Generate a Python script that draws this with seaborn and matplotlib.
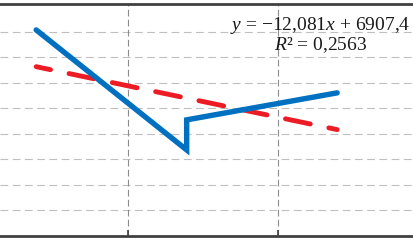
import matplotlib
matplotlib.use("Agg")
import matplotlib.pyplot as plt
import seaborn as sns
import numpy as np
import pandas as pd

# data
x_values = [0.39, 1.39, 1.39, 2.39]
y_values = [80.7, 33.6, 45.4, 56.0]
equation_text = "$y$ = \u221212,081$x$ + 6907,4"
r2_text = "$R$\u00b2 = 0,2563"
x_grid = [1, 2]
y_grid = [10, 20, 30, 40, 50, 60, 70, 80]

df = pd.DataFrame({"x": x_values, "y": y_values})

sns.set_theme(style="white")
plt.rcParams["font.family"] = ["Liberation Serif", "DejaVu Serif"]
plt.rcParams["mathtext.fontset"] = "custom"
plt.rcParams["mathtext.rm"] = "Liberation Serif"
plt.rcParams["mathtext.it"] = "Liberation Serif:italic"

fig = plt.figure(figsize=(4.13, 2.40), dpi=100)
ax = fig.add_axes([0, 0.01875, 1, 0.9658])

ax.set_xlim(0.1495, 2.894)
ax.set_ylim(0, 91)

# grid
for yv in y_grid:
    ax.axhline(yv, color="#BFBFBF", lw=0.8, dashes=(7, 4), zorder=0)
for xv in x_grid:
    ax.axvline(xv, color="#8C8C8C", lw=0.8, dashes=(6, 3), zorder=0)

# trendline
sns.regplot(data=df, x="x", y="y", ax=ax, scatter=False, ci=None, truncate=True,
            line_kws=dict(color="#ED1C24", lw=3.5, linestyle=(2.2, (5.2, 3.9)),
                          dash_capstyle="round", zorder=2))

# data line
sns.lineplot(data=df, x="x", y="y", ax=ax, estimator=None, sort=False,
             color="#0070C0", lw=3.9, zorder=3)
for ln in ax.lines[-1:]:
    ln.set_solid_capstyle("round")
    ln.set_solid_joinstyle("miter")

ax.set_xticks(x_grid)
ax.set_yticks(y_grid)
ax.set_xticklabels([])
ax.set_yticklabels([])
ax.set_xlabel("")
ax.set_ylabel("")
ax.tick_params(axis="x", direction="in", length=4, width=1.2, color="#404040", bottom=True)
ax.tick_params(axis="y", length=0)

for side in ["left", "right"]:
    ax.spines[side].set_visible(False)
for side in ["top", "bottom"]:
    ax.spines[side].set_visible(True)
    ax.spines[side].set_color("#404040")
    ax.spines[side].set_linewidth(2.0)

fig.text(320 / 413, 1 - 30 / 240, equation_text, ha="center", va="baseline",
         fontsize=14, color="#1a1a1a")
fig.text(321 / 413, 1 - 50 / 240, r2_text, ha="center", va="baseline",
         fontsize=14, color="#1a1a1a")

fig.savefig("out.png", dpi=100)
